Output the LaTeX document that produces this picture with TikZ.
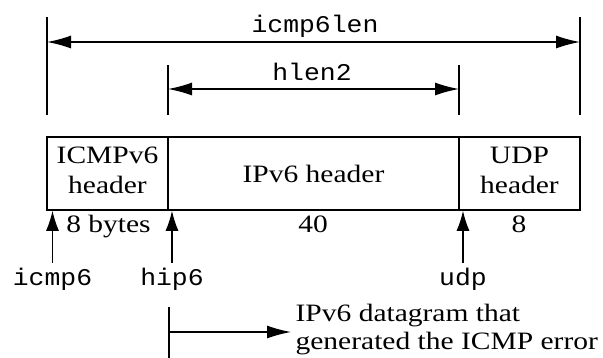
\documentclass[tikz,border=0pt]{standalone}
\usepackage{fontspec}
\setmainfont{Liberation Serif}[FakeStretch=1.18]
\setmonofont{Liberation Mono}[FakeStretch=1.1]
\usetikzlibrary{arrows.meta}

\begin{document}
\begin{tikzpicture}[x=1pt, y=-1pt, line width=1.3pt,
	every node/.style={font=\fontsize{25}{30}\selectfont},
	>={Latex[length=24pt, width=13pt]},
	up/.style={-{Latex[length=20pt, width=13pt]}},
	cell/.style={draw, line width=1.6pt, minimum height=73pt, align=center, inner sep=0pt},
	var/.style={font=\ttfamily\fontsize{24}{28}\selectfont, inner sep=4pt}]
	\useasboundingbox (0,0) rectangle (603,357);
	% the three headers
	\node[cell, minimum width=121pt, text depth=7pt] (icmp) at (107.5,173.5) {ICMPv6\\header};
	\node[cell, minimum width=291pt] (ip6) at (313.5,173.5) {IPv6 header};
	\node[cell, minimum width=121pt, text depth=7pt] (udp) at (519.5,173.5) {UDP\\header};
	\node[anchor=base] (sz1) at (108.5,232) {8 bytes};
	\node[anchor=base] (sz2) at (313,232) {40};
	\node[anchor=base] (sz3) at (519,232) {8};
	% lengths
	\draw (47,17) -- (47,115);
	\draw (580,17) -- (580,115);
	\draw (168,65) -- (168,115);
	\draw (459,65) -- (459,115);
	\coordinate (lenL) at (47,42);
	\coordinate (lenR) at (580,42);
	\coordinate (hlenL) at (168,89);
	\coordinate (hlenR) at (459,89);
	\draw[<->] (lenL) -- (lenR);
	\draw[<->] (hlenL) -- (hlenR);
	\node[var, anchor=base] (len) at (315,32) {icmp6len};
	\node[var, anchor=base] (hlen) at (312,80) {hlen2};
	% pointers
	\node[var, anchor=base] (picmp) at (52.5,285) {icmp6};
	\node[var, anchor=base] (phip) at (172,285) {hip6};
	\node[var, anchor=base] (pudp) at (463,285) {udp};
	\draw[up] (picmp.north) -- (picmp.north |- icmp.south);
	\draw[up] (phip.north) -- (phip.north |- ip6.south);
	\draw[up] (pudp.north) -- (pudp.north |- udp.south);
	% datagram
	\coordinate (dgtop) at (169,307);
	\coordinate (dgbot) at (169,362);
	\coordinate (dgtail) at (169,332);
	\draw (dgtop) -- (dgbot);
	\node[anchor=west, align=left, inner sep=4pt, font=\fontsize{25}{28}\selectfont] (dgram) at (291,330) {IPv6 datagram that\\generated the ICMP error};
	\draw[->] (dgtail) -- (dgtail -| dgram.west);
\end{tikzpicture}
\end{document}
